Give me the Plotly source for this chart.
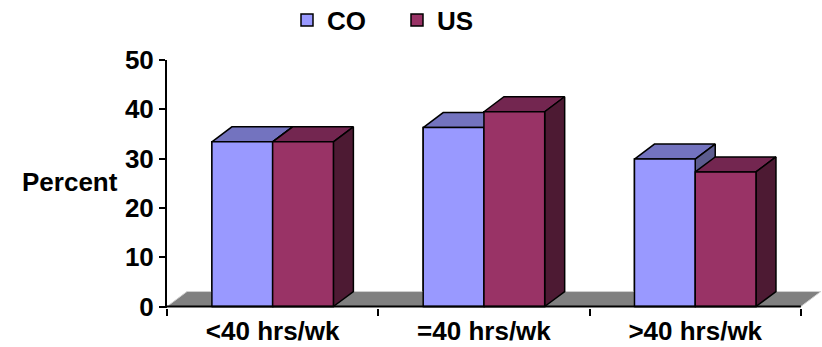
import plotly.graph_objects as go

# ---- data ----
CATEGORIES = ["<40 hrs/wk", "=40 hrs/wk", ">40 hrs/wk"]
SERIES = ["CO", "US"]
CO_VALUES = [33.4, 36.3, 29.9]
US_VALUES = [33.4, 39.5, 27.3]
Y_TICKS = [0, 10, 20, 30, 40, 50]

# ---- styling / layout parameters ----
W, H = 822, 347
MARGIN = dict(l=167, r=0, t=60, b=39)
X_RANGE = [-0.5, 2.6]
Y_RANGE = [-0.3, 50]
BAR_W = 0.2875
DEPTH_PX = (20, 15)
FONT = "Liberation Sans, Arial, sans-serif"
FS = 26
FRONT = {"CO": "#9999FF", "US": "#993366"}
TOP = {"CO": "#7373BF", "US": "#732650"}
SIDE = {"CO": "#5C5C8F", "US": "#4D1A33"}
EDGE = "#000000"

plot_w = W - MARGIN["l"] - MARGIN["r"]
plot_h = H - MARGIN["t"] - MARGIN["b"]
ppu_x = plot_w / (X_RANGE[1] - X_RANGE[0])
ppu_y = plot_h / (Y_RANGE[1] - Y_RANGE[0])
dxd = DEPTH_PX[0] / ppu_x
dyd = DEPTH_PX[1] / ppu_y

values = {"CO": CO_VALUES, "US": US_VALUES}
xpos = list(range(len(CATEGORIES)))

fig = go.Figure()

# front faces as real bars (also provide the legend)
for s in SERIES:
    fig.add_trace(go.Bar(
        x=xpos, y=values[s], name=s,
        marker=dict(color=FRONT[s], line=dict(color=EDGE, width=1.5)),
        width=BAR_W, hoverinfo="skip",
    ))

def poly(xs, ys, fill, lw=1.5, lc=EDGE):
    fig.add_trace(go.Scatter(
        x=xs + [xs[0]], y=ys + [ys[0]], mode="lines", fill="toself",
        fillcolor=fill, line=dict(color=lc, width=lw),
        showlegend=False, hoverinfo="skip",
    ))

# floor
fl0, fl1 = X_RANGE[0], len(CATEGORIES) - 0.5
poly([fl0, fl1, fl1 + dxd, fl0 + dxd], [0, 0, dyd, dyd], "#808080", lw=1, lc="#D0D0D0")

# 3D faces, drawn back-to-front
for i, c in enumerate(xpos):
    for j, s in enumerate(SERIES):
        v = values[s][i]
        x0 = c - BAR_W + j * BAR_W
        x1 = x0 + BAR_W
        poly([x0, x1, x1 + dxd, x0 + dxd], [v, v, v + dyd, v + dyd], TOP[s])
        poly([x1, x1 + dxd, x1 + dxd, x1], [0, dyd, v + dyd, v], SIDE[s])
        poly([x0, x1, x1, x0], [0, 0, v, v], FRONT[s])

# baseline
fig.add_trace(go.Scatter(x=[fl0, fl1], y=[0, 0], mode="lines",
                         line=dict(color=EDGE, width=2),
                         showlegend=False, hoverinfo="skip"))

bold = dict(family=FONT, size=FS, color="black", weight="bold")
fig.update_layout(
    width=W, height=H, margin=MARGIN,
    paper_bgcolor="white", plot_bgcolor="white",
    barmode="group", bargap=1 - 2 * BAR_W, bargroupgap=0,
    font=bold,
    showlegend=True,
    legend=dict(orientation="h", xref="container", yref="container",
                x=287 / W, y=1 - 20 / H, xanchor="left", yanchor="middle",
                entrywidth=65, entrywidthmode="pixels",
                font=bold, bgcolor="rgba(0,0,0,0)"),
    annotations=[dict(text="Percent", xref="paper", yref="y",
                      x=(120 - MARGIN["l"]) / plot_w, y=25.3,
                      xanchor="right", yanchor="middle", showarrow=False,
                      font=bold)],
)
fig.update_xaxes(
    range=X_RANGE, showgrid=False, zeroline=False, showline=False,
    automargin=False,
    tickmode="array", tickvals=xpos, ticktext=CATEGORIES, ticks="",
    ticklabelstandoff=5,
    minor=dict(tickmode="array", tickvals=[-0.5, 0.5, 1.5, 2.5],
               ticks="outside", ticklen=7, tickwidth=2, tickcolor=EDGE),
)
fig.update_yaxes(
    range=Y_RANGE, showgrid=False, zeroline=False, showline=True,
    automargin=False,
    linecolor=EDGE, linewidth=2, tickmode="array", tickvals=Y_TICKS,
    ticks="outside", ticklen=6, tickwidth=2, tickcolor=EDGE,
)

fig.write_html("out.html")
